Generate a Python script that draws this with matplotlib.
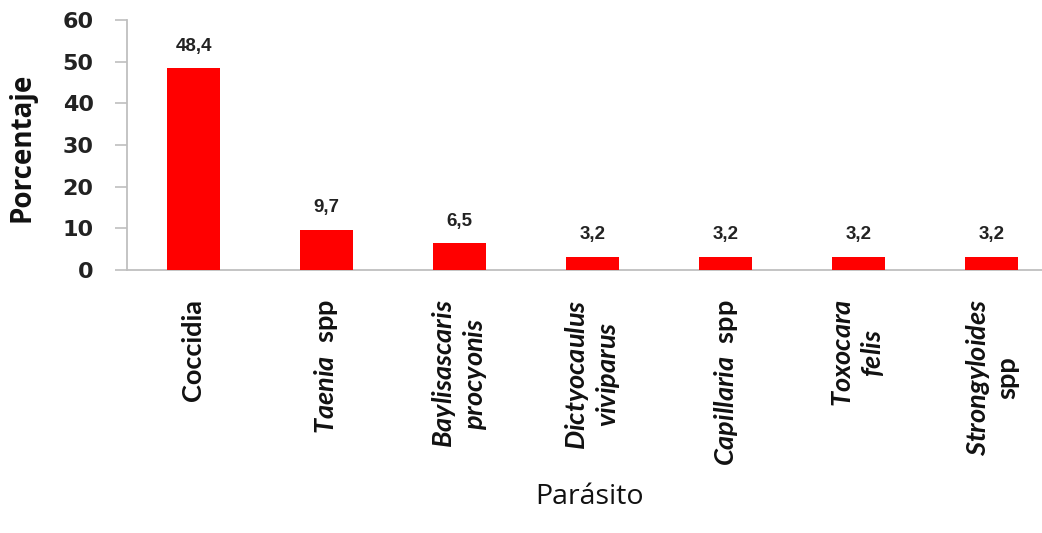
import matplotlib
matplotlib.use("Agg")
import matplotlib.pyplot as plt

# Parasite prevalence data (italic parts written as mathtext)
category_labels = [
    "Coccidia",
    r"$\mathit{Taenia}$  spp",
    "$\\mathit{Baylisascaris}$\n$\\mathit{procyonis}$",
    "$\\mathit{Dictyocaulus}$\n$\\mathit{viviparus}$",
    r"$\mathit{Capillaria}$  spp",
    "$\\mathit{Toxocara}$\n$\\mathit{felis}$",
    "$\\mathit{Strongyloides}$\nspp",
]
percentages = [48.4, 9.7, 6.5, 3.2, 3.2, 3.2, 3.2]
value_labels = ["48,4", "9,7", "6,5", "3,2", "3,2", "3,2", "3,2"]
y_ticks = [0, 10, 20, 30, 40, 50, 60]

LABEL_FONT = "Lato"
plt.rcParams["mathtext.fontset"] = "custom"
plt.rcParams["mathtext.it"] = f"{LABEL_FONT}:italic:bold"
plt.rcParams["mathtext.rm"] = f"{LABEL_FONT}:bold"
plt.rcParams["mathtext.bf"] = f"{LABEL_FONT}:bold"

W, H = 1042, 533
fig = plt.figure(figsize=(W / 100, H / 100), dpi=100)
ax = fig.add_axes([127 / W, 1 - 270 / H, 1 - 127 / W, 250 / H])

x = list(range(len(percentages)))
bars = ax.bar(x, percentages, width=0.4, color="#FF0000", zorder=3)

ax.set_xlim(-0.5, -0.5 + (W - 127) / 133)
ax.set_ylim(0, 60)
ax.set_yticks(y_ticks)
ax.set_yticklabels([str(t) for t in y_ticks], fontsize=16, fontweight="bold",
                   family="DejaVu Sans", color="#222222")
ax.tick_params(axis="y", length=9, width=1.2, color="#BFBFBF", pad=15)
ax.tick_params(axis="x", length=0)

for side in ("top", "right"):
    ax.spines[side].set_visible(False)
for side in ("left", "bottom"):
    ax.spines[side].set_color("#BFBFBF")
    ax.spines[side].set_linewidth(1.3)

# value labels above bars
for rect, lab in zip(bars, value_labels):
    ax.annotate(lab, (rect.get_x() + rect.get_width() / 2, rect.get_height()),
                xytext=(0, 12.5), textcoords="offset points",
                ha="center", va="baseline", fontsize=13.5, fontweight="bold",
                family="Liberation Sans", color="#222222")

# rotated category labels
ax.set_xticks(x)
ax.set_xticklabels(["" for _ in x])
for xi, lab in zip(x, category_labels):
    ax.annotate(lab, (xi, 0), xycoords=("data", "axes fraction"),
                xytext=(0, -21), textcoords="offset points",
                rotation=90, ha="center", va="top", multialignment="center",
                fontsize=19.5, fontweight="bold", linespacing=1.15,
                family=[LABEL_FONT, "DejaVu Sans"], color="#111111",
                annotation_clip=False)

fig.text(22 / W, 1 - 147 / H, "Porcentaje", rotation=90, ha="center", va="center",
         fontsize=20, fontweight="bold", family=["Open Sans", "DejaVu Sans"],
         color="#111111")
fig.text(589 / W, 1 - 497 / H, "Parásito", ha="center", va="center",
         fontsize=20.5, family=["Open Sans", "DejaVu Sans"], color="#111111")

fig.savefig("out.png", dpi=100)
